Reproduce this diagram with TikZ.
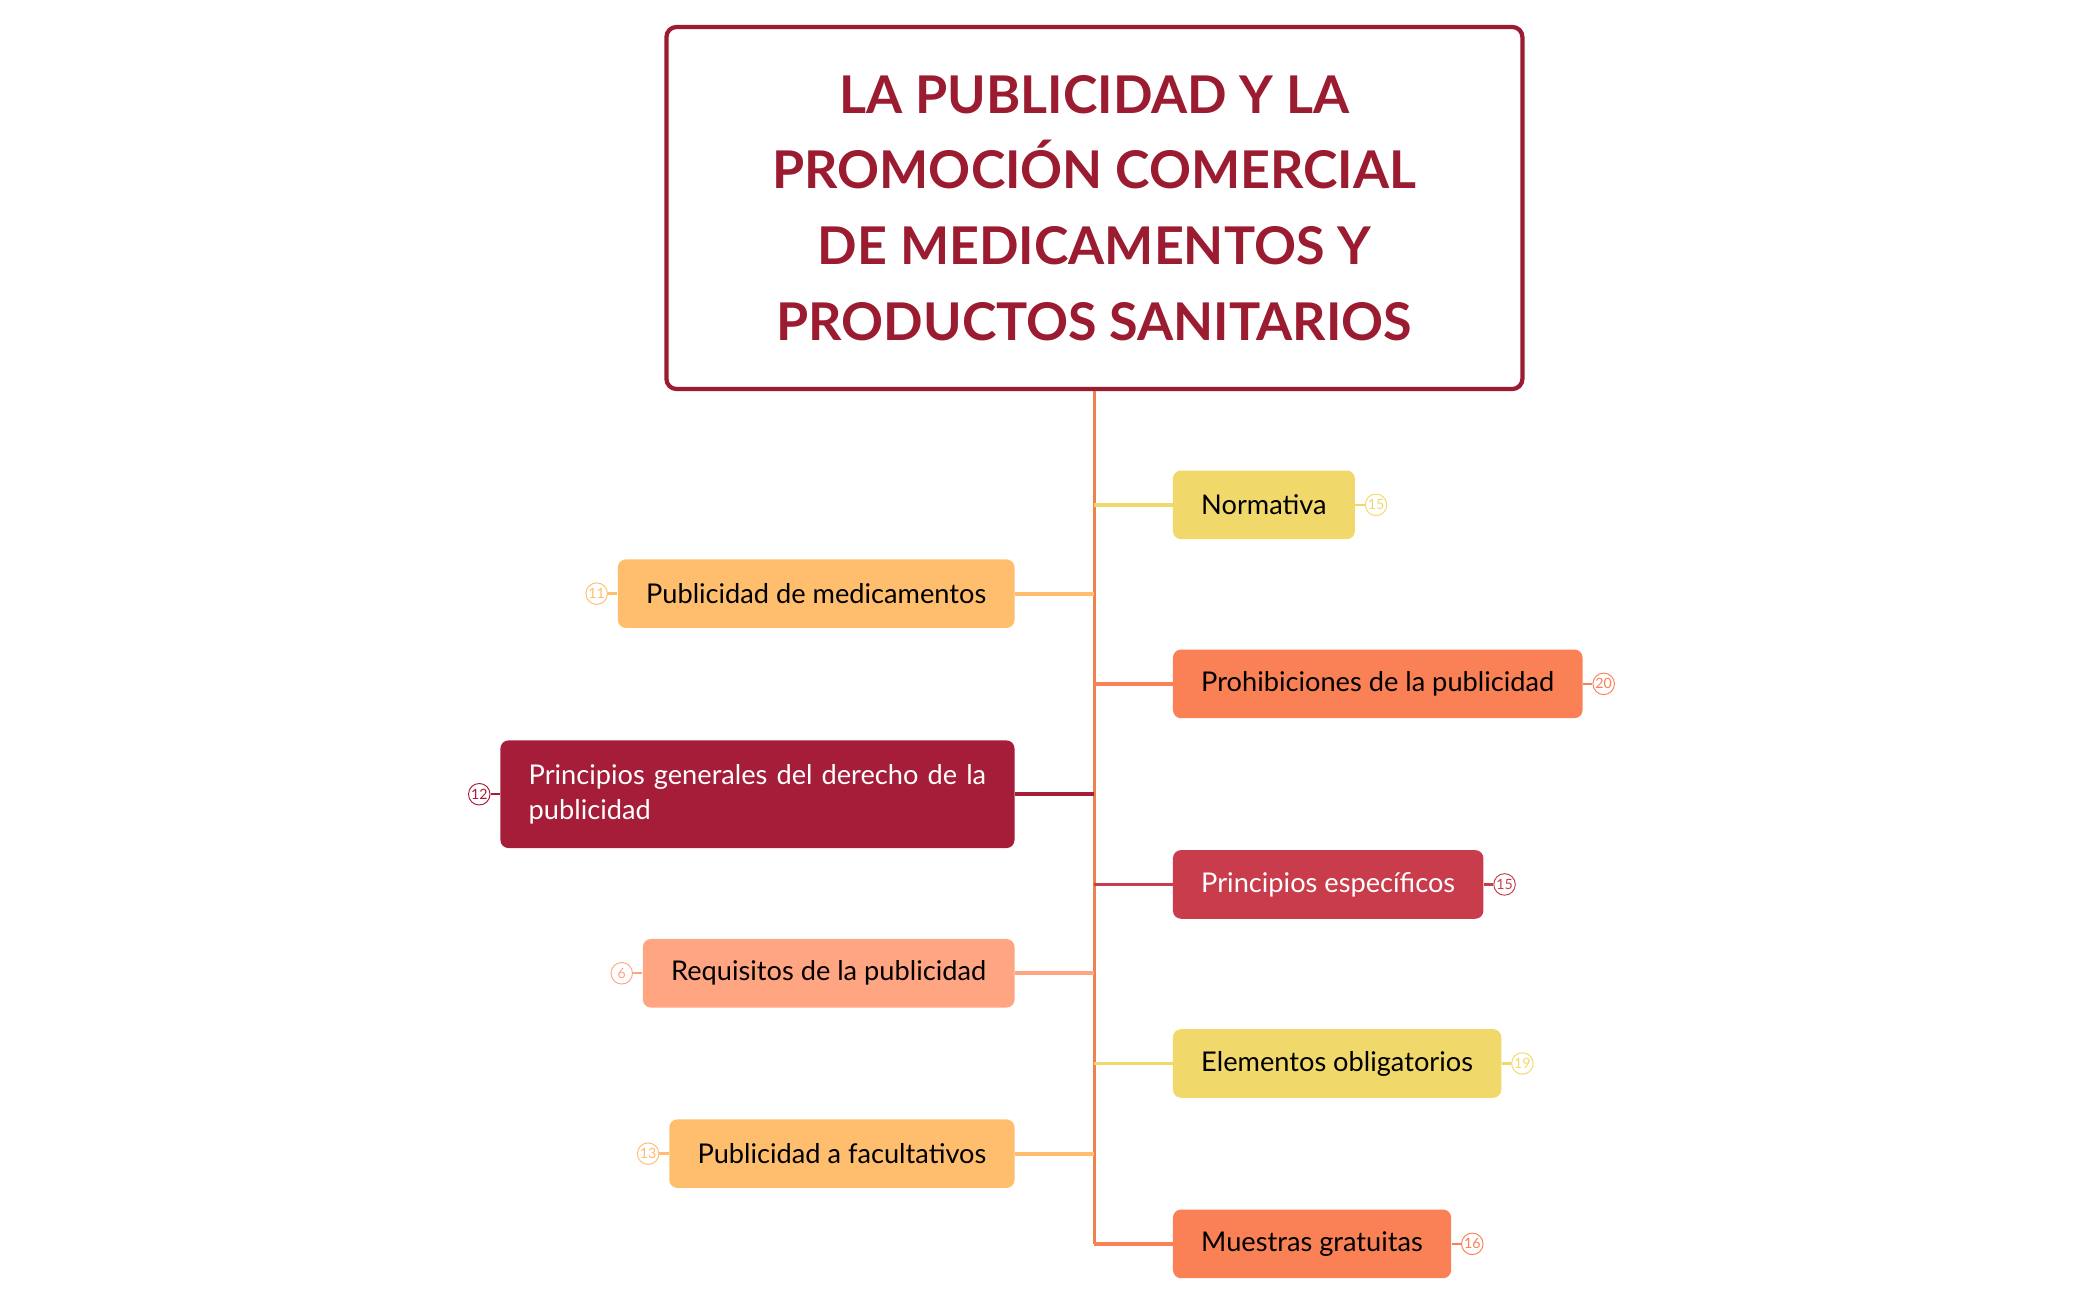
\documentclass[tikz,border=0pt]{standalone}
\usepackage{fontspec}
\setmainfont{Lato}
\usetikzlibrary{positioning}
\definecolor{wine}{HTML}{9B1B30}
\definecolor{trunkc}{HTML}{F08050}
\definecolor{yel}{HTML}{F0D96A}
\definecolor{ora}{HTML}{FFBE6E}
\definecolor{cor}{HTML}{FA8055}
\definecolor{dred}{HTML}{A51D38}
\definecolor{mred}{HTML}{C83C4B}
\definecolor{sal}{HTML}{FFA582}
\tikzset{
  topic/.style={rounded corners=0.12cm, minimum height=1.02cm, inner xsep=0.42cm, font=\fontsize{11.5}{15}\selectfont},
  badge/.style={circle, draw=#1, fill=white, inner sep=0pt, minimum size=0.32cm, text=#1, font=\fontsize{6}{6}\selectfont},
  link/.style={line width=1.6pt}
}
\begin{document}
\begin{tikzpicture}[x=0.02cm,y=-0.02cm]
\useasboundingbox (0,0) rectangle (1560,965);
% title
\node[draw=wine, line width=1.8pt, rounded corners=0.15cm, minimum width=12.72cm, minimum height=5.38cm, text=wine, align=center,
  font=\fontsize{22}{32}\selectfont\bfseries] (title) at (813,154.5)
  {LA PUBLICIDAD Y LA\\PROMOCIÓN COMERCIAL\\DE MEDICAMENTOS Y\\PRODUCTOS SANITARIOS};
% trunk
\coordinate (tend) at (813,924);
\draw[link, trunkc] (title.south) -- (tend);
% right side
\foreach \name/\y/\col/\tc/\num/\txt in {
  norm/375/yel/black/15/Normativa,
  proh/508/cor/black/20/Prohibiciones de la publicidad,
  pesp/657/mred/white/15/Principios específicos,
  elem/790/yel/black/19/Elementos obligatorios,
  mues/924/cor/black/16/Muestras gratuitas}{
  \node[topic, fill=\col, text=\tc, anchor=west] (\name) at (871,\y) {\txt};
  \coordinate (\name-t) at (813,\y);
  \draw[link, \col] (\name-t) -- (\name.west);
  \node[badge=\col, right=0.14cm of \name] (\name-b) {\num};
  \draw[\col, line width=1pt] (\name.east) -- (\name-b);
}
% left side
\foreach \name/\y/\col/\tc/\num/\txt in {
  pmed/441/ora/black/11/Publicidad de medicamentos,
  requ/723/sal/black/6/Requisitos de la publicidad,
  pfac/857/ora/black/13/Publicidad a facultativos}{
  \node[topic, fill=\col, text=\tc, anchor=east] (\name) at (754,\y) {\txt};
  \coordinate (\name-t) at (813,\y);
  \draw[link, \col] (\name-t) -- (\name.east);
  \node[badge=\col, left=0.14cm of \name] (\name-b) {\num};
  \draw[\col, line width=1pt] (\name.west) -- (\name-b);
}
\node[topic, fill=dred, text=white, anchor=east, minimum height=1.6cm, text width=6.8cm, align=left] (pgen) at (754,590)
  {Principios generales del derecho de la publicidad};
\coordinate (pgen-t) at (813,590);
\draw[link, dred] (pgen-t) -- (pgen.east);
\node[badge=dred, left=0.14cm of pgen] (pgen-b) {12};
\draw[dred, line width=1pt] (pgen.west) -- (pgen-b);
\end{tikzpicture}
\end{document}
